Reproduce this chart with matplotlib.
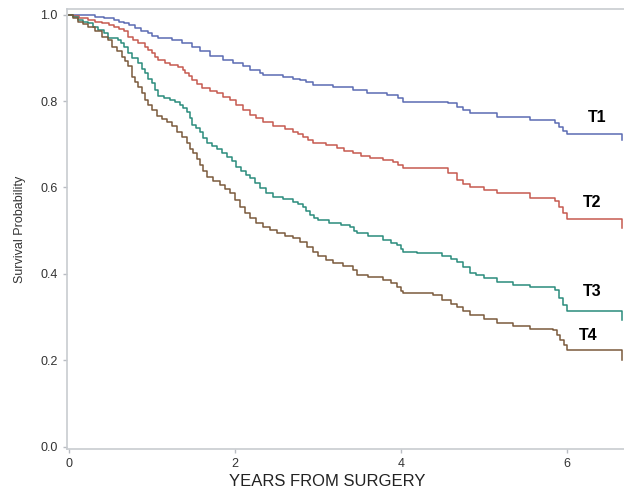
import matplotlib
matplotlib.use("Agg")
import matplotlib.pyplot as plt

plt.rcParams["font.family"] = ["Liberation Sans", "DejaVu Sans"]

# Kaplan-Meier step breakpoints (years, survival)
t1_time = [0, 0.1, 0.31, 0.43, 0.55, 0.61, 0.67, 0.73, 0.80, 0.87, 0.95, 1.0, 1.07, 1.24, 1.36,
           1.49, 1.58, 1.70, 1.86, 1.98, 2.10, 2.18, 2.30, 2.34, 2.58, 2.70, 2.78, 2.86, 2.94,
           3.18, 3.42, 3.59, 3.83, 3.96, 4.02, 4.57, 4.67, 4.75, 4.83, 5.16, 5.55, 5.85, 5.9,
           5.95, 6.0, 6.66]
t1_surv = [1.0, 0.998, 0.995, 0.992, 0.988, 0.984, 0.980, 0.975, 0.969, 0.963, 0.957, 0.951,
           0.945, 0.941, 0.934, 0.926, 0.915, 0.905, 0.895, 0.888, 0.880, 0.872, 0.866, 0.860,
           0.856, 0.852, 0.849, 0.843, 0.837, 0.833, 0.826, 0.818, 0.814, 0.806, 0.798, 0.795,
           0.786, 0.779, 0.772, 0.763, 0.756, 0.75, 0.74, 0.73, 0.723, 0.71]

t2_time = [0, 0.05, 0.12, 0.23, 0.32, 0.40, 0.48, 0.55, 0.61, 0.67, 0.71, 0.77, 0.83, 0.92, 0.96,
           1.0, 1.04, 1.07, 1.16, 1.22, 1.31, 1.37, 1.40, 1.45, 1.49, 1.55, 1.61, 1.70, 1.78,
           1.86, 1.94, 2.02, 2.10, 2.18, 2.26, 2.34, 2.46, 2.60, 2.70, 2.76, 2.82, 2.88, 2.94,
           3.1, 3.23, 3.32, 3.42, 3.52, 3.63, 3.78, 3.90, 3.96, 4.02, 4.57, 4.67, 4.75, 4.83,
           5.0, 5.16, 5.55, 5.85, 5.9, 5.95, 6.0, 6.66]
t2_surv = [1.0, 0.996, 0.992, 0.988, 0.984, 0.980, 0.976, 0.972, 0.967, 0.961, 0.949, 0.942,
           0.934, 0.926, 0.918, 0.911, 0.903, 0.895, 0.887, 0.883, 0.878, 0.872, 0.864, 0.857,
           0.849, 0.84, 0.830, 0.823, 0.818, 0.81, 0.802, 0.79, 0.779, 0.768, 0.76, 0.752,
           0.741, 0.735, 0.729, 0.723, 0.717, 0.71, 0.702, 0.697, 0.691, 0.685, 0.679, 0.673,
           0.667, 0.663, 0.659, 0.652, 0.644, 0.633, 0.617, 0.607, 0.60, 0.593, 0.587, 0.575,
           0.568, 0.555, 0.54, 0.527, 0.506]

t3_time = [0, 0.05, 0.11, 0.17, 0.23, 0.29, 0.35, 0.43, 0.47, 0.59, 0.63, 0.67, 0.71, 0.76, 0.83,
           0.88, 0.92, 0.96, 1.0, 1.04, 1.07, 1.15, 1.22, 1.28, 1.34, 1.38, 1.42, 1.46, 1.49,
           1.53, 1.58, 1.62, 1.66, 1.72, 1.78, 1.84, 1.90, 1.96, 2.02, 2.08, 2.13, 2.18, 2.24,
           2.30, 2.38, 2.46, 2.58, 2.70, 2.76, 2.82, 2.86, 2.90, 2.95, 3.0, 3.14, 3.28, 3.39,
           3.43, 3.47, 3.6, 3.78, 3.88, 3.95, 4.0, 4.02, 4.2, 4.39, 4.5, 4.6, 4.67, 4.75, 4.83,
           4.9, 5.0, 5.16, 5.35, 5.55, 5.85, 5.9, 5.95, 6.0, 6.66]
t3_surv = [1.0, 0.995, 0.988, 0.984, 0.980, 0.972, 0.965, 0.957, 0.945, 0.941, 0.934, 0.926,
           0.912, 0.899, 0.887, 0.875, 0.864, 0.852, 0.841, 0.825, 0.812, 0.806, 0.802, 0.797,
           0.791, 0.783, 0.775, 0.76, 0.745, 0.737, 0.729, 0.715, 0.702, 0.695, 0.689, 0.680,
           0.671, 0.66, 0.648, 0.637, 0.628, 0.621, 0.61, 0.598, 0.588, 0.578, 0.572, 0.567,
           0.561, 0.555, 0.545, 0.536, 0.53, 0.525, 0.518, 0.513, 0.509, 0.50, 0.494, 0.487,
           0.478, 0.472, 0.467, 0.458, 0.45, 0.449, 0.448, 0.44, 0.435, 0.427, 0.415, 0.402,
           0.397, 0.39, 0.381, 0.375, 0.37, 0.362, 0.345, 0.328, 0.314, 0.293]

t4_time = [0, 0.05, 0.11, 0.17, 0.23, 0.31, 0.40, 0.47, 0.52, 0.58, 0.64, 0.68, 0.71, 0.76, 0.80,
           0.83, 0.88, 0.92, 0.96, 1.0, 1.06, 1.12, 1.18, 1.24, 1.30, 1.36, 1.42, 1.46, 1.50,
           1.54, 1.58, 1.62, 1.66, 1.74, 1.82, 1.88, 1.94, 2.0, 2.06, 2.12, 2.18, 2.26, 2.34,
           2.42, 2.51, 2.60, 2.70, 2.78, 2.87, 2.94, 3.0, 3.1, 3.18, 3.3, 3.42, 3.47, 3.6, 3.78,
           3.88, 3.95, 4.0, 4.02, 4.39, 4.5, 4.6, 4.67, 4.75, 4.83, 5.0, 5.16, 5.35, 5.55, 5.83,
           5.88, 5.92, 5.96, 6.0, 6.66]
t4_surv = [1.0, 0.992, 0.984, 0.978, 0.972, 0.961, 0.949, 0.941, 0.926, 0.915, 0.903, 0.892,
           0.880, 0.856, 0.845, 0.833, 0.818, 0.802, 0.79, 0.779, 0.765, 0.758, 0.752, 0.742,
           0.729, 0.716, 0.702, 0.69, 0.679, 0.666, 0.652, 0.638, 0.625, 0.615, 0.606, 0.596,
           0.586, 0.57, 0.555, 0.54, 0.528, 0.518, 0.509, 0.501, 0.494, 0.488, 0.482, 0.473,
           0.463, 0.45, 0.440, 0.432, 0.425, 0.417, 0.409, 0.397, 0.392, 0.386, 0.378, 0.37,
           0.36, 0.355, 0.35, 0.34, 0.33, 0.323, 0.313, 0.305, 0.295, 0.286, 0.279, 0.272, 0.27,
           0.258, 0.247, 0.235, 0.223, 0.20]

groups = ["T1", "T2", "T3", "T4"]
times = [t1_time, t2_time, t3_time, t4_time]
survs = [t1_surv, t2_surv, t3_surv, t4_surv]
colors = ["#5b6bb3", "#c65a50", "#2a8c7c", "#7a5a3c"]
label_pos = [(6.36, 0.761), (6.30, 0.566), (6.30, 0.358), (6.25, 0.258)]

fig = plt.figure(figsize=(6.24, 4.9), dpi=100)
ax = fig.add_axes([0.107, 0.083, 0.893, 0.8986])

for t, s, c in zip(times, survs, colors):
    ax.step(t, s, where="post", color=c, lw=1.1)

for g, (x, y) in zip(groups, label_pos):
    ax.text(x, y, g, fontsize=11.5, fontweight="bold", ha="center", va="center", color="black")

ax.set_xlim(-0.024, 6.687)
ax.set_ylim(-0.0065, 1.013)
ax.set_xticks([0, 2, 4, 6])
ax.set_yticks([0.0, 0.2, 0.4, 0.6, 0.8, 1.0])
ax.set_yticklabels(["0.0", "0.2", "0.4", "0.6", "0.8", "1.0"])
ax.tick_params(colors="#b8bcc2", labelcolor="#333333", labelsize=9, length=3, width=1)
for side in ["left", "bottom", "top"]:
    ax.spines[side].set_color("#c8ccd0")
    ax.spines[side].set_linewidth(1.2)
ax.spines["right"].set_visible(False)

ax.set_xlabel("YEARS FROM SURGERY", fontsize=12, color="#222222")
ax.xaxis.set_label_coords(0.467, -0.055)
ax.set_ylabel("Survival Probability", fontsize=9, color="#333333", labelpad=10)

fig.savefig("out.png", dpi=100)
